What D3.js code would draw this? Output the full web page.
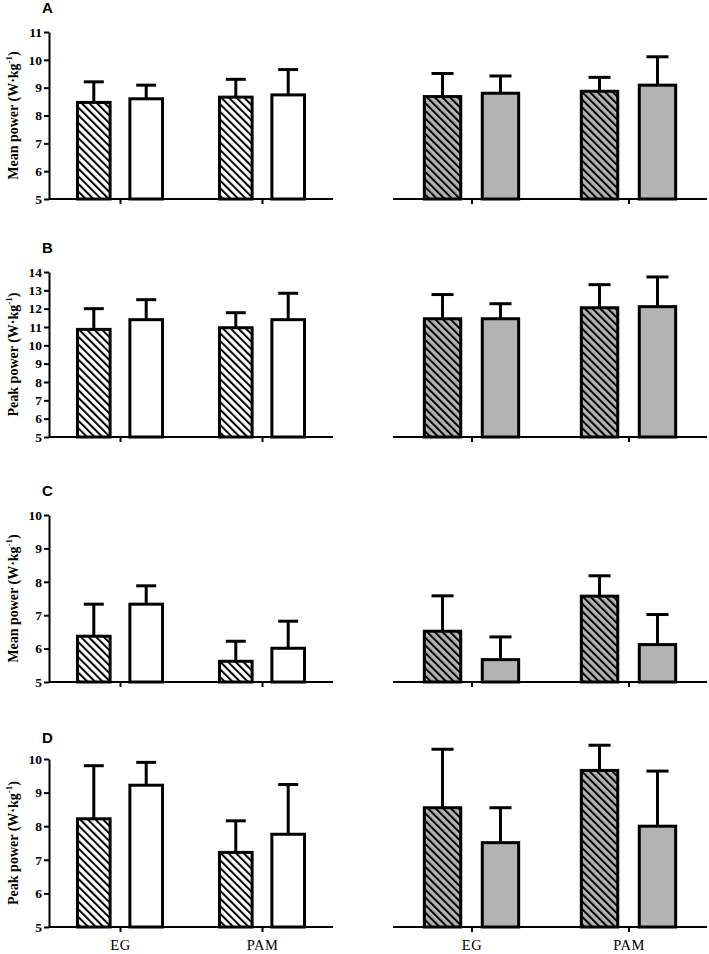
<!DOCTYPE html>
<html>
<head>
<meta charset="utf-8">
<script src="https://cdn.jsdelivr.net/npm/d3@7/dist/d3.min.js"></script>
<style>
  html, body { margin: 0; padding: 0; background: #fff; }
  svg { display: block; }
</style>
</head>
<body>
<svg id="chart" width="709" height="954"></svg>
<script>
// ---------------- DATA ----------------
const groups = ["EG", "PAM"];
const seriesKeys = ["hatched", "plain"];
const panelIds = ["A", "B", "C", "D"];
const yTitles = ["Mean power", "Peak power", "Mean power", "Peak power"];

const ticksA = [5, 6, 7, 8, 9, 10, 11];
const ticksB = [5, 6, 7, 8, 9, 10, 11, 12, 13, 14];
const ticksC = [5, 6, 7, 8, 9, 10];
const ticksD = [5, 6, 7, 8, 9, 10];

// each row = group (EG, PAM), each column = series (hatched, plain)
const A_left_mean  = [[8.47, 8.60], [8.66, 8.74]];
const A_left_sd    = [[0.74, 0.49], [0.64, 0.91]];
const A_right_mean = [[8.68, 8.80], [8.87, 9.09]];
const A_right_sd   = [[0.83, 0.62], [0.50, 1.02]];

const B_left_mean  = [[10.87, 11.40], [10.96, 11.40]];
const B_left_sd    = [[1.13, 1.09], [0.82, 1.44]];
const B_right_mean = [[11.45, 11.45], [12.05, 12.11]];
const B_right_sd   = [[1.32, 0.82], [1.26, 1.62]];

const C_left_mean  = [[6.37, 7.33], [5.62, 6.01]];
const C_left_sd    = [[0.96, 0.55], [0.60, 0.81]];
const C_right_mean = [[6.52, 5.67], [7.57, 6.12]];
const C_right_sd   = [[1.06, 0.68], [0.61, 0.90]];

const D_left_mean  = [[8.22, 9.22], [7.22, 7.76]];
const D_left_sd    = [[1.58, 0.68], [0.94, 1.48]];
const D_right_mean = [[8.55, 7.51], [9.66, 8.00]];
const D_right_sd   = [[1.74, 1.04], [0.75, 1.64]];

// ---------------- LAYOUT ----------------
const svg = d3.select("#chart");
const GRAY = "#b3b3b3";
const serif = "'Liberation Serif', 'Times New Roman', serif";
const sans = "'Liberation Sans', Arial, sans-serif";

const defs = svg.append("defs");
function hatch(id, bg) {
  const p = defs.append("pattern")
    .attr("id", id)
    .attr("patternUnits", "userSpaceOnUse")
    .attr("width", 5.4).attr("height", 10)
    .attr("patternTransform", "rotate(-45)");
  p.append("rect").attr("width", 5.4).attr("height", 10).attr("fill", bg);
  p.append("line").attr("x1", 1).attr("x2", 1).attr("y1", 0).attr("y2", 10)
    .attr("stroke", "#000").attr("stroke-width", 2);
}
hatch("hatchWhite", "#fff");
hatch("hatchGray", GRAY);

const panels = [
  { id: panelIds[0], title: yTitles[0], top: 32,  bottom: 199, ticks: ticksA,
    left: [A_left_mean, A_left_sd], right: [A_right_mean, A_right_sd], letterY: 13 },
  { id: panelIds[1], title: yTitles[1], top: 272, bottom: 437, ticks: ticksB,
    left: [B_left_mean, B_left_sd], right: [B_right_mean, B_right_sd], letterY: 253 },
  { id: panelIds[2], title: yTitles[2], top: 515, bottom: 682, ticks: ticksC,
    left: [C_left_mean, C_left_sd], right: [C_right_mean, C_right_sd], letterY: 496 },
  { id: panelIds[3], title: yTitles[3], top: 759, bottom: 927, ticks: ticksD,
    left: [D_left_mean, D_left_sd], right: [D_right_mean, D_right_sd], letterY: 743 }
];

const sides = [
  { key: "left",  x0: 49,  x1: 333, fills: ["url(#hatchWhite)", "#fff"] },
  { key: "right", x0: 393, x1: 707, fills: ["url(#hatchGray)", GRAY] }
];

panels.forEach((P, pi) => {
  const g = svg.append("g");
  const y = d3.scaleLinear()
    .domain([P.ticks[0], P.ticks[P.ticks.length - 1]])
    .range([P.bottom, P.top]);

  // panel letter
  g.append("text")
    .attr("x", 42).attr("y", P.letterY)
    .attr("font-family", sans).attr("font-weight", "bold").attr("font-size", 15)
    .text(P.id);

  // y axis
  const yAxis = d3.axisLeft(y).tickValues(P.ticks).tickFormat(d3.format("d"))
    .tickSize(5).tickPadding(2).tickSizeOuter(0);
  const ya = g.append("g").attr("transform", "translate(49,0)").call(yAxis);
  ya.select(".domain").attr("stroke-width", 2).attr("stroke", "#000");
  ya.selectAll(".tick line").attr("stroke-width", 2);
  ya.selectAll(".tick text")
    .attr("font-family", serif).attr("font-weight", "bold").attr("font-size", 13.5)
    .attr("fill", "#000");

  // y title
  const yt = g.append("text")
    .attr("transform", `translate(18,${(P.top + P.bottom) / 2}) rotate(-90)`)
    .attr("text-anchor", "middle")
    .attr("font-family", serif).attr("font-weight", "bold").attr("font-size", 14);
  yt.append("tspan").text(P.title + " (W\u00B7kg");
  yt.append("tspan").attr("font-size", 9).attr("dy", -6).text("-1");
  yt.append("tspan").attr("dy", 6).text(")");

  sides.forEach(S => {
    const W = S.x1 - S.x0;
    const x0 = d3.scalePoint().domain(groups).range([S.x0, S.x1]).padding(0.5);
    const x1 = d3.scaleBand().domain(seriesKeys)
      .range([-0.155 * W, 0.155 * W]).paddingInner(0.32);
    const bw = x1.bandwidth();
    const [means, sds] = P[S.key];

    // x axis
    const xAxis = d3.axisBottom(x0).tickSize(5).tickSizeOuter(0)
      .tickFormat(pi === 3 ? (d => d) : () => "");
    const xa = g.append("g").attr("transform", `translate(0,${P.bottom})`).call(xAxis);
    xa.select(".domain").attr("d", `M${S.x0},0H${S.x1}`)
      .attr("stroke-width", 2).attr("stroke", "#000");
    xa.selectAll(".tick line").attr("stroke-width", 2);
    xa.selectAll(".tick text")
      .attr("font-family", serif).attr("font-size", 14.5).attr("fill", "#000")
      .attr("dy", "1.05em").attr("letter-spacing", 0.5);

    const data = [];
    groups.forEach((grp, gi) => {
      seriesKeys.forEach((s, si) => {
        data.push({ grp, s, si, mean: means[gi][si], sd: sds[gi][si] });
      });
    });

    const bars = g.append("g");
    // error bars (upper only)
    bars.selectAll("line.err").data(data).enter().append("line")
      .attr("x1", d => x0(d.grp) + x1(d.s) + bw / 2)
      .attr("x2", d => x0(d.grp) + x1(d.s) + bw / 2)
      .attr("y1", d => y(d.mean))
      .attr("y2", d => y(d.mean + d.sd))
      .attr("stroke", "#000").attr("stroke-width", 3);
    bars.selectAll("line.cap").data(data).enter().append("line")
      .attr("x1", d => x0(d.grp) + x1(d.s) + bw / 2 - bw * 0.28)
      .attr("x2", d => x0(d.grp) + x1(d.s) + bw / 2 + bw * 0.28)
      .attr("y1", d => y(d.mean + d.sd))
      .attr("y2", d => y(d.mean + d.sd))
      .attr("stroke", "#000").attr("stroke-width", 3);
    // bars
    bars.selectAll("rect").data(data).enter().append("rect")
      .attr("x", d => x0(d.grp) + x1(d.s) + 1.5)
      .attr("width", bw - 3)
      .attr("y", d => y(d.mean))
      .attr("height", d => y(y.domain()[0]) - y(d.mean))
      .attr("fill", d => S.fills[d.si])
      .attr("stroke", "#000").attr("stroke-width", 3);
  });
});
</script>
</body>
</html>
